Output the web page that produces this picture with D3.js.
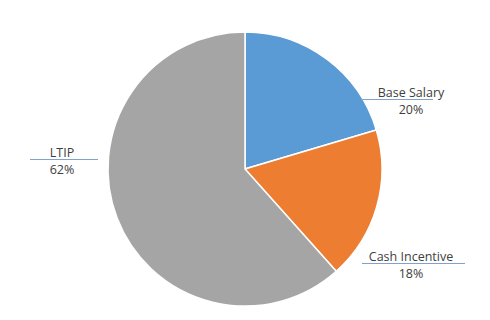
<!DOCTYPE html>
<html>
<head>
<meta charset="utf-8">
<script src="https://cdn.jsdelivr.net/npm/d3@7"></script>
<style>
  body { margin: 0; background: #fff; }
  text { font-family: "Open Sans", "Noto Sans", sans-serif; font-size: 12.5px; fill: #404040; }
</style>
</head>
<body>
<svg id="chart"></svg>
<script>
// chart data (shares, labels are rounded)
const categories = ["Base Salary", "Cash Incentive", "LTIP"];
const shares = [20.4, 18.0, 61.6];
const colors = ["#5b9bd5", "#ed7d31", "#a5a5a5"];

const width = 490, height = 320;
const cx = 245, cy = 169, radius = 137;

// where each label sits (Excel puts them by hand)
const labelPos = [
    { x: 411, y: 96.5, lineX0: 361, lineX1: 433 },
    { x: 411, y: 260.5, lineX0: 362, lineX1: 465 },
    { x: 62, y: 156.5, lineX0: 30, lineX1: 98 }
];

const svg = d3.select("#chart")
    .attr("width", width)
    .attr("height", height);

const pie = d3.pie().sort(null).value(d => d);
const arc = d3.arc().innerRadius(0).outerRadius(radius);

const g = svg.append("g").attr("transform", `translate(${cx},${cy})`);

g.selectAll("path")
    .data(pie(shares))
    .enter()
    .append("path")
    .attr("d", arc)
    .attr("fill", (d, i) => colors[i])
    .attr("stroke", "#fff")
    .attr("stroke-width", 1.5);

const fmt = d3.format(".0%");
const total = d3.sum(shares);

const labels = svg.append("g");
categories.forEach((c, i) => {
    const p = labelPos[i];
    labels.append("line")
        .attr("x1", p.lineX0).attr("x2", p.lineX1)
        .attr("y1", p.y + 3).attr("y2", p.y + 3)
        .attr("stroke", "#7fa3cc")
        .attr("stroke-width", 1);
    labels.append("text")
        .attr("x", p.x).attr("y", p.y)
        .attr("text-anchor", "middle")
        .text(c);
    labels.append("text")
        .attr("x", p.x).attr("y", p.y + 17)
        .attr("text-anchor", "middle")
        .text(fmt(shares[i] / total));
});
</script>
</body>
</html>
